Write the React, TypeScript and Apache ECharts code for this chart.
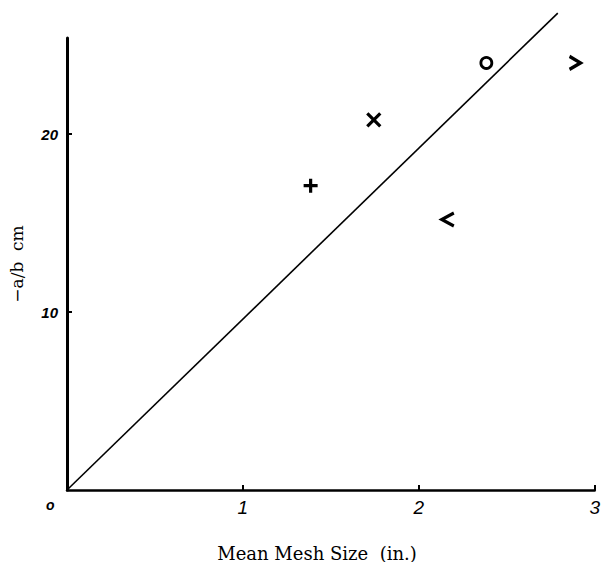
import React, { useEffect, useRef } from "react";
import * as echarts from "echarts";

const xTicks = [1, 2, 3];
const yTicks = [10, 20];
const pointNames = ["plus", "cross", "lt", "circle", "gt"];
const pointX = [1.385, 1.744, 2.165, 2.384, 2.888];
const pointY = [17.1, 20.8, 15.2, 24.0, 24.0];
const fitX = [0, 2.79];
const fitY = [0, 26.8];

const symbols: Record<string, any> = {
  plus: { symbol: "path://M0,5L10,5M5,0L5,10", size: 14 },
  cross: { symbol: "path://M0,0L10,10M10,0L0,10", size: 13 },
  lt: { symbol: "path://M10,0L0,6L10,12", size: [12, 13] },
  circle: { symbol: "circle", size: 11 },
  gt: { symbol: "path://M0,0L10,6L0,12", size: [11, 13] },
};

export default function App() {
  const ref = useRef<HTMLDivElement>(null);
  useEffect(() => {
    if (!ref.current) return;
    const chart = echarts.init(ref.current, null, { renderer: "svg" });
    const scatterData = pointNames.map((n, i) => {
      const s = symbols[n];
      const isCircle = n === "circle";
      return {
        value: [pointX[i], pointY[i]],
        symbol: s.symbol,
        symbolSize: s.size,
        itemStyle: {
          color: isCircle ? "#fff" : "rgba(0,0,0,0)",
          borderColor: "#000",
          borderWidth: isCircle ? 2.8 : 3.2,
          opacity: 1,
        },
      };
    });
    chart.setOption({
      animation: false,
      backgroundColor: "#fff",
      grid: { left: 62, right: 6, top: 38, bottom: 72 },
      xAxis: {
        type: "value",
        min: 0,
        max: 3,
        interval: 1,
        splitLine: { show: false },
        axisLine: { lineStyle: { color: "#000", width: 2.5 } },
        axisTick: { inside: true, length: 5, lineStyle: { color: "#000", width: 2 }, customValues: xTicks },
        axisLabel: {
          customValues: xTicks,
          margin: 8,
          color: "#000",
          fontFamily: "Liberation Sans",
          fontStyle: "italic",
          fontSize: 19,
        },
      },
      yAxis: {
        type: "value",
        min: 0,
        max: 25.4,
        interval: 10,
        splitLine: { show: false },
        axisLine: { lineStyle: { color: "#000", width: 3 } },
        axisTick: { inside: true, length: 5, lineStyle: { color: "#000", width: 2 }, customValues: yTicks },
        axisLabel: {
          customValues: yTicks,
          margin: 9,
          color: "#000",
          fontFamily: "Liberation Sans",
          fontStyle: "italic",
          fontWeight: "bold",
          fontSize: 15,
        },
        name: "\u2212a/b  cm",
        nameLocation: "middle",
        nameRotate: 90,
        nameGap: 42,
        nameTextStyle: { color: "#000", fontFamily: "DejaVu Serif", fontSize: 17 },
      },
      graphic: [
        {
          type: "text",
          left: 46,
          top: 498,
          style: { text: "o", fill: "#000", font: "bold italic 14px 'Liberation Sans'" },
        },
        {
          type: "text",
          x: 317,
          y: 553,
          style: {
            text: "Mean Mesh Size  (in.)",
            fill: "#000",
            font: "18px 'DejaVu Serif'",
            align: "center",
            verticalAlign: "middle",
          },
        },
      ],
      series: [
        {
          type: "line",
          data: fitX.map((x, i) => [x, fitY[i]]),
          clip: false,
          symbol: "none",
          lineStyle: { color: "#000", width: 1.6 },
        },
        {
          type: "scatter",
          data: scatterData,
          clip: false,
          emphasis: { disabled: true },
        },
      ],
    });
    return () => chart.dispose();
  }, []);
  return (
    <div
      ref={ref}
      style={{ position: "fixed", left: 0, top: 0, width: 603, height: 562 }}
    />
  );
}
